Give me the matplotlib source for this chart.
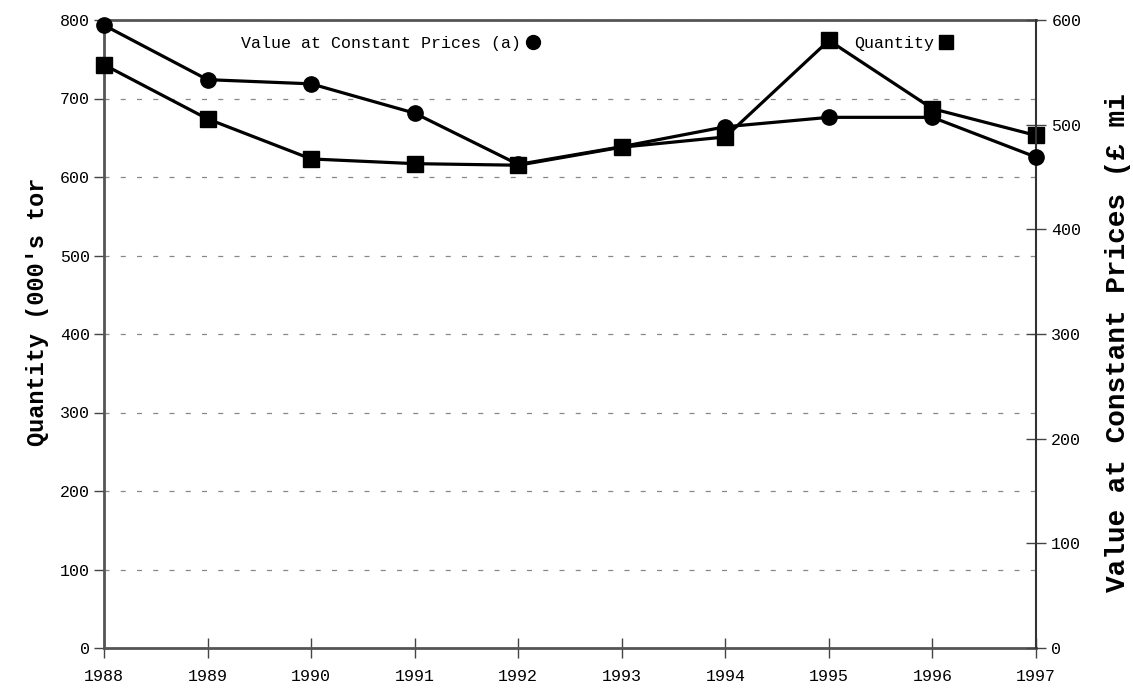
import matplotlib
matplotlib.use("Agg")
import matplotlib.pyplot as plt
from matplotlib.lines import Line2D

years = [1988, 1989, 1990, 1991, 1992, 1993, 1994, 1995, 1996, 1997]
quantity = [743, 674, 623, 617, 615, 638, 651, 774, 687, 653]      # 000's tonnes, left axis
value = [595, 543, 539, 511, 462, 479, 498, 507, 507, 469]         # £ million, right axis
left_ticks = [0, 100, 200, 300, 400, 500, 600, 700, 800]
right_ticks = [0, 100, 200, 300, 400, 500, 600]

plt.rcParams["font.family"] = ["Liberation Mono", "DejaVu Sans Mono"]

fig = plt.figure(figsize=(11.33, 6.89), dpi=100)
ax = fig.add_axes([104 / 1133, 41 / 689, 932 / 1133, 628 / 689])
ax2 = ax.twinx()

ax.plot(years, quantity, color="black", lw=2.3, marker="s", ms=11, zorder=3, clip_on=False)
ax2.plot(years, value, color="black", lw=2.3, marker="o", ms=11, zorder=3, clip_on=False)

ax.set_xlim(years[0], years[-1])
ax.set_ylim(0, 800)
ax2.set_ylim(0, 600)
ax.set_xticks(years)
ax.set_yticks(left_ticks)
ax2.set_yticks(right_ticks)
ax.yaxis.grid(True, linestyle=(0, (4, 9)), color="#888888", lw=0.9)
ax.set_axisbelow(True)

for a in (ax, ax2):
    for side, sp in a.spines.items():
        sp.set_color("#555555")
        sp.set_linewidth(2)
ax.spines["right"].set_visible(False)
ax2.spines["left"].set_visible(False)
ax2.spines["top"].set_visible(False)
ax2.spines["bottom"].set_visible(False)
ax2.spines["right"].set_linewidth(1.5)
ax2.spines["right"].set_color("#333333")

ax.tick_params(axis="x", direction="inout", length=14, width=1, color="#444444",
               labelsize=12, pad=8)
ax.tick_params(axis="y", direction="out", length=7, width=1, color="#444444",
               labelsize=12, pad=3)
ax2.tick_params(axis="y", direction="inout", length=14, width=1, color="#444444",
                labelsize=12, pad=4)

fig.text(38 / 1133, 1 - 446 / 689, "Quantity (000's tor", rotation=90,
         ha="center", va="bottom", fontsize=17, fontweight="bold")
fig.text(1118 / 1133, 1 - 592 / 689, "Value at Constant Prices (\u00a3 mi", rotation=90,
         ha="center", va="bottom", fontsize=20, fontweight="bold")

handles = [
    Line2D([], [], color="black", marker="o", ls="none", ms=10),
    Line2D([], [], color="black", marker="s", ls="none", ms=10),
]
ax.legend(handles, ["Value at Constant Prices (a)", "Quantity"], ncol=2,
          markerfirst=False, frameon=False, fontsize=12, handlelength=1,
          handletextpad=0.2, columnspacing=18.8, loc="upper left",
          bbox_to_anchor=(122 / 932, 0.999))

fig.savefig("out.png", dpi=100)
